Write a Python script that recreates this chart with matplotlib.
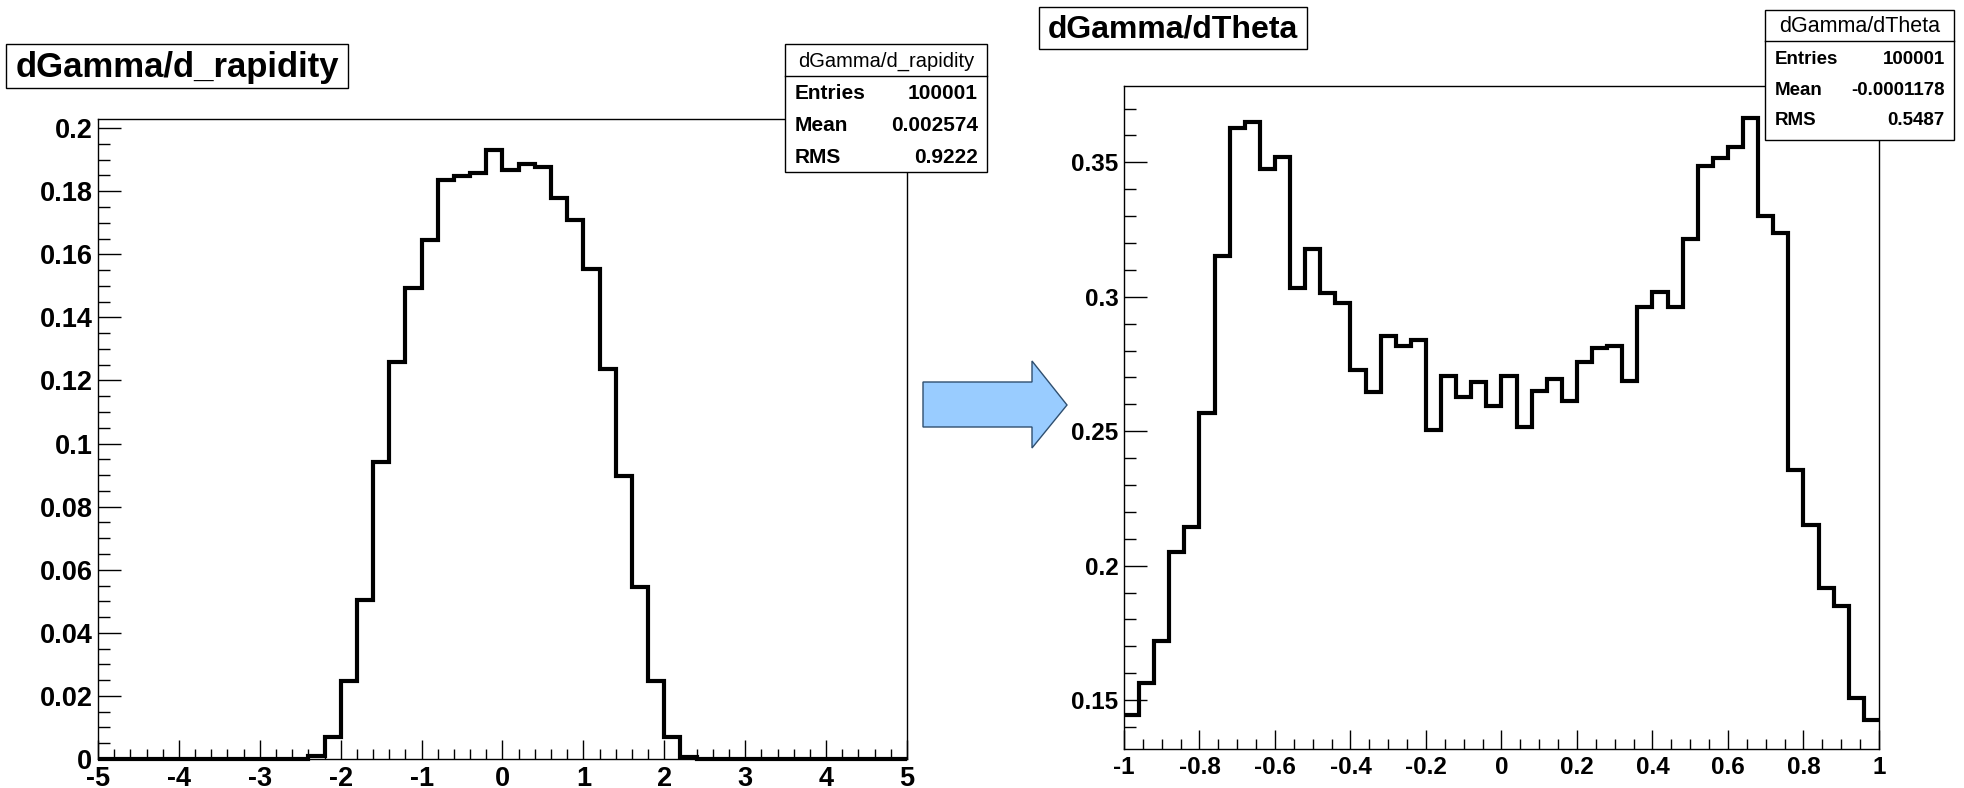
import numpy as np
import matplotlib
matplotlib.use("Agg")
import matplotlib.pyplot as plt
from matplotlib.ticker import MultipleLocator, FuncFormatter
from matplotlib.patches import Rectangle, Polygon

plt.rcParams['font.family'] = ['Liberation Sans', 'DejaVu Sans']

# dGamma/d_rapidity : 50 bins on [-5, 5]
rap_range = (-5.0, 5.0)
rap_vals = [0, 0, 0, 0, 0, 0, 0, 0, 0, 0, 0, 0, 0,
            0.0008, 0.007, 0.0246, 0.0505, 0.0942, 0.126, 0.1494, 0.1645,
            0.1836, 0.1847, 0.1857, 0.1930, 0.1868, 0.1887, 0.1878, 0.178,
            0.1708, 0.1555, 0.1235, 0.0897, 0.0545, 0.0248, 0.007, 0.0007,
            0, 0, 0, 0, 0, 0, 0, 0, 0, 0, 0, 0, 0]
rap_stats = [("Entries", "100001"), ("Mean", "0.002574"), ("RMS", "0.9222")]

# dGamma/dTheta : 50 bins on [-1, 1]
theta_range = (-1.0, 1.0)
theta_vals = [0.1446, 0.1562, 0.1721, 0.2049, 0.2142, 0.2569, 0.315, 0.3627,
              0.365, 0.3476, 0.3519, 0.3032, 0.3178, 0.3013, 0.2978, 0.2729,
              0.2645, 0.2855, 0.2817, 0.2839, 0.2505, 0.2705, 0.2627, 0.2683,
              0.2593, 0.2707, 0.2515, 0.2649, 0.2696, 0.2612, 0.2758, 0.2810,
              0.2817, 0.2686, 0.2961, 0.3016, 0.2963, 0.3216, 0.3487, 0.3517,
              0.3556, 0.3665, 0.33, 0.3238, 0.2356, 0.215, 0.1916, 0.1851,
              0.1509, 0.1426]
theta_stats = [("Entries", "100001"), ("Mean", "-0.0001178"), ("RMS", "0.5487")]

W, H = 1965, 788


def frac(x0, y0, x1, y1):
    return [x0 / W, 1 - y1 / H, (x1 - x0) / W, (y1 - y0) / H]


def fmt(v, pos):
    v = round(v, 6)
    if abs(v) < 1e-9:
        v = 0
    return f"{v:g}"


def hist_panel(ax, vals, rng, ylim, xmaj, xmin, ymaj, ymin, fs):
    edges = np.linspace(rng[0], rng[1], len(vals) + 1)
    ax.stairs(vals, edges, color='black', lw=3.0, baseline=None,
              clip_on=False, zorder=3)
    ax.set_xlim(*rng)
    ax.set_ylim(*ylim)
    ax.xaxis.set_major_locator(MultipleLocator(xmaj))
    ax.xaxis.set_minor_locator(MultipleLocator(xmin))
    ax.yaxis.set_major_locator(MultipleLocator(ymaj))
    ax.yaxis.set_minor_locator(MultipleLocator(ymin))
    ax.xaxis.set_major_formatter(FuncFormatter(fmt))
    ax.yaxis.set_major_formatter(FuncFormatter(fmt))
    ax.tick_params(which='both', direction='in', top=False, right=False,
                   width=1.0, labelsize=fs)
    ax.tick_params(axis='x', which='major', length=13.5, pad=5)
    ax.tick_params(axis='x', which='minor', length=7)
    ax.tick_params(axis='y', which='major', length=16.5, pad=4)
    ax.tick_params(axis='y', which='minor', length=8.5)
    for lab in ax.get_xticklabels() + ax.get_yticklabels():
        lab.set_fontweight('bold')
    for s in ax.spines.values():
        s.set_linewidth(1.0)


fig = plt.figure(figsize=(19.65, 7.88), dpi=100)

ax1 = fig.add_axes(frac(98, 119, 907, 759))
hist_panel(ax1, rap_vals, rap_range, (0, 0.2029), 1, 0.2, 0.02, 0.005, 19.5)

ax2 = fig.add_axes(frac(1124, 86, 1879, 749))
hist_panel(ax2, theta_vals, theta_range, (0.1318, 0.3784), 0.2, 0.05, 0.05, 0.01, 17.5)

# overlay in pixel coordinates for titles, stat boxes and the arrow
ov = fig.add_axes([0, 0, 1, 1], zorder=10)
ov.set_xlim(0, W)
ov.set_ylim(H, 0)
ov.axis('off')
ov.patch.set_alpha(0)


def title_box(x0, y0, x1, y1, text, size):
    ov.add_patch(Rectangle((x0, y0), x1 - x0, y1 - y0, fc='white', ec='black', lw=1.0))
    ov.text((x0 + x1) / 2, (y0 + y1) / 2 + 1, text, ha='center', va='center',
            fontsize=size, fontweight='bold')


def stats_box(x0, y0, x1, y1, ysep, name, rows, rows_y, hsize, size):
    ov.add_patch(Rectangle((x0, y0), x1 - x0, y1 - y0, fc='white', ec='black', lw=1.0))
    ov.plot([x0, x1], [ysep, ysep], color='black', lw=1.0)
    ov.text((x0 + x1) / 2, (y0 + ysep) / 2 + 1, name, ha='center', va='center',
            fontsize=hsize)
    for (lab, val), yy in zip(rows, rows_y):
        ov.text(x0 + 10, yy, lab, ha='left', va='center', fontsize=size, fontweight='bold')
        ov.text(x1 - 9, yy, val, ha='right', va='center', fontsize=size, fontweight='bold')


title_box(6, 44, 348, 88, "dGamma/d_rapidity", 25)
title_box(1039, 7, 1307, 49, "dGamma/dTheta", 23)

stats_box(785, 44, 987, 172, 76, "dGamma/d_rapidity", rap_stats,
          [93, 125, 157], 14.5, 15)
stats_box(1765, 10, 1954, 140, 41, "dGamma/dTheta", theta_stats,
          [59, 90, 120], 15.5, 13.5)

arrow = Polygon([(923, 382), (1032, 382), (1032, 361), (1067, 405),
                 (1032, 448), (1032, 427), (923, 427)],
                closed=True, fc='#99CCFF', ec='#2F4F6F', lw=1.0)
ov.add_patch(arrow)

fig.savefig("out.png", dpi=100, facecolor='white')
